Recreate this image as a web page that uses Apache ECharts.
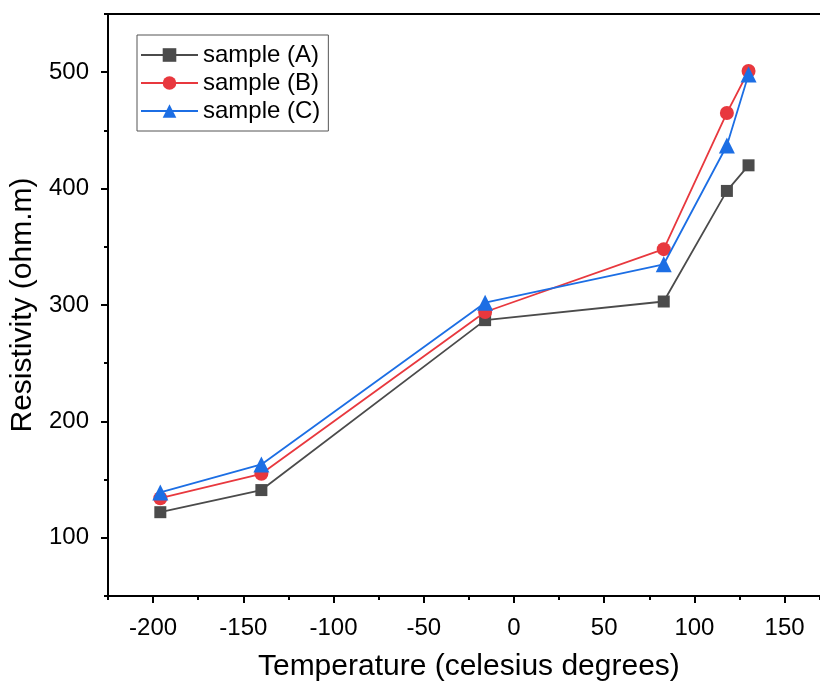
<!DOCTYPE html>
<html>
<head>
<meta charset="utf-8">
<script src="https://cdn.jsdelivr.net/npm/echarts@6/dist/echarts.min.js"></script>
<style>
html,body{margin:0;padding:0;background:#fff;}
#chart{width:820px;height:687px;}
</style>
</head>
<body>
<div id="chart"></div>
<script>
const temperatures = [-196, -140, -16, 83, 118, 130];
const sampleA = [122, 141, 287, 303, 398, 420];
const sampleB = [134, 155, 294, 348, 465, 501];
const sampleC = [139, 163, 302, 335, 437, 498];
const seriesNames = ['sample (A)', 'sample (B)', 'sample (C)'];
// tick label range: x labels -200..150 step 50, y labels 100..500 step 100
const xLabelMin = -200, xLabelMax = 150, xLabelStep = 50;
const yLabelMin = 100, yLabelMax = 500, yLabelStep = 100;

const FONT = 'Liberation Sans';
const colors = ['#4b4b4b', '#e8383e', '#1c6ee4'];
const symbols = ['rect', 'circle', 'triangle'];
const symbolSizes = [12, 14, 16];

function pairs(xs, ys) { return xs.map((x, i) => [x, ys[i]]); }
const values = [sampleA, sampleB, sampleC];

// full axis extent (plot frame)
const X_MIN = -225, X_MAX = 169.6;
const Y_MIN = 50, Y_MAX = 550;
const tickStyle = {color: '#000', width: 2};
const axisLineStyle = {color: '#000', width: 2};

// main plotting grid
const G = {left: 108, right: 0, top: 14, bottom: 91};
const W = 820 - G.left - G.right, H = 687 - G.top - G.bottom;
const pxX = W / (X_MAX - X_MIN), pxY = H / (Y_MAX - Y_MIN);
// helper grid whose edges sit on the labelled range (for long ticks + labels)
const G2 = {
  left: G.left + (xLabelMin - X_MIN) * pxX,
  right: G.right + (X_MAX - xLabelMax) * pxX,
  top: G.top + (Y_MAX - yLabelMax) * pxY,
  bottom: G.bottom + (yLabelMin - Y_MIN) * pxY
};

const chart = echarts.init(document.getElementById('chart'), null, {renderer: 'canvas'});
chart.setOption({
  animation: false,
  backgroundColor: '#fff',
  grid: [Object.assign({containLabel: false}, G), Object.assign({containLabel: false}, G2)],
  legend: {
    orient: 'vertical',
    left: 137, top: 35,
    padding: [8, 8, 8, 3],
    itemGap: 4,
    itemWidth: 57,
    itemHeight: 17,
    backgroundColor: '#fff',
    borderColor: '#555',
    borderWidth: 1,
    borderRadius: 0,
    textStyle: {fontFamily: FONT, fontSize: 24, color: '#000'},
    data: seriesNames
  },
  xAxis: [
    {
      type: 'value', gridIndex: 0, position: 'bottom', min: X_MIN, max: X_MAX, interval: 25,
      axisLine: {show: true, onZero: false, lineStyle: axisLineStyle},
      axisTick: {show: true, inside: false, length: 4, lineStyle: tickStyle},
      axisLabel: {show: false}, splitLine: {show: false}
    },
    {
      type: 'value', gridIndex: 0, position: 'top', min: X_MIN, max: X_MAX,
      axisLine: {show: true, onZero: false, lineStyle: axisLineStyle},
      axisTick: {show: false}, axisLabel: {show: false}, splitLine: {show: false}
    },
    {
      type: 'value', gridIndex: 1, position: 'bottom', min: xLabelMin, max: xLabelMax, interval: xLabelStep,
      offset: G2.bottom - G.bottom,
      name: 'Temperature (celesius degrees)', nameLocation: 'middle', nameGap: 56,
      nameTextStyle: {fontFamily: FONT, fontSize: 30, color: '#000'},
      axisLine: {show: false, onZero: false},
      axisTick: {show: true, inside: false, length: 7, lineStyle: tickStyle},
      axisLabel: {show: true, fontFamily: FONT, fontSize: 24, color: '#000', margin: 20, hideOverlap: false},
      splitLine: {show: false}
    }
  ],
  yAxis: [
    {
      type: 'value', gridIndex: 0, position: 'left', min: Y_MIN, max: Y_MAX, interval: 50,
      axisLine: {show: true, onZero: false, lineStyle: axisLineStyle},
      axisTick: {show: true, inside: false, length: 4, lineStyle: tickStyle},
      axisLabel: {show: false}, splitLine: {show: false}
    },
    {
      type: 'value', gridIndex: 1, position: 'left', min: yLabelMin, max: yLabelMax, interval: yLabelStep,
      offset: G2.left - G.left,
      name: 'Resistivity (ohm.m)', nameLocation: 'middle', nameGap: 57,
      nameTextStyle: {fontFamily: FONT, fontSize: 30, color: '#000'},
      axisLine: {show: false, onZero: false},
      axisTick: {show: true, inside: false, length: 7, lineStyle: tickStyle},
      axisLabel: {show: true, fontFamily: FONT, fontSize: 24, color: '#000', margin: 19, hideOverlap: false},
      splitLine: {show: false}
    }
  ],
  series: seriesNames.map((name, i) => ({
    name: name,
    type: 'line',
    xAxisIndex: 0,
    yAxisIndex: 0,
    data: pairs(temperatures, values[i]),
    symbol: symbols[i],
    symbolSize: symbolSizes[i],
    showAllSymbol: true,
    lineStyle: {color: colors[i], width: 1.8},
    itemStyle: {color: colors[i], borderWidth: 0},
    emphasis: {disabled: true},
    z: 2 + i
  }))
});
</script>
</body>
</html>
